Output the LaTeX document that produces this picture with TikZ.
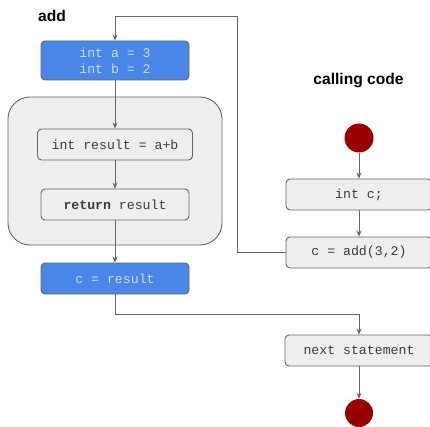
\documentclass[tikz,border=0pt]{standalone}
\usepackage{fontspec}
\setmainfont{Liberation Sans}
\newfontfamily\codefont{Liberation Mono}
\usetikzlibrary{arrows.meta}
\definecolor{linegray}{HTML}{666666}
\definecolor{boxfill}{HTML}{EEEEEE}
\definecolor{bluefill}{HTML}{4A86E8}
\definecolor{bluetext}{HTML}{C9DAF8}
\definecolor{codegray}{HTML}{3C3C3C}
\definecolor{dotred}{HTML}{990000}
\tikzset{
  x=1pt, y=-1pt,
  arr/.style={draw=linegray, line width=0.9pt, -{Stealth[length=6pt,width=5pt]}},
  codebox/.style={draw=linegray, line width=0.9pt, fill=boxfill, rounded corners=4pt,
    minimum width=148pt, minimum height=31pt, inner sep=0pt,
    font=\codefont\fontsize{13.2}{16}\selectfont, text=codegray},
  bluebox/.style={codebox, fill=bluefill, text=bluetext, align=center},
  group/.style={draw=linegray, line width=0.9pt, fill=boxfill, rounded corners=22pt,
    minimum width=214pt, minimum height=148pt, inner sep=0pt},
  dot/.style={circle, fill=dotred, minimum size=29pt, inner sep=0pt},
  heading/.style={font=\bfseries\fontsize{15.6}{18}\selectfont, anchor=base, inner sep=0pt},
}
\begin{document}
\begin{tikzpicture}
\useasboundingbox (0,0) rectangle (430,427);
\fill[white] (0,0) rectangle (430,427);

% function body
\node[heading] (addlbl) at (52,22) {add};
\node[group] (body) at (115,171) {};
\node[bluebox] (params) at (115,60.5) [minimum height=39pt] {int a = 3\\int b = 2};
\node[codebox, minimum width=155pt] (sum) at (115,144.5) {int result = a+b};
\node[codebox] (ret) at (115,204.5) {\textbf{return} result};
\node[bluebox] (assign) at (115,278.5) {c = result};

% caller
\node[heading] (calllbl) at (358.5,85) {calling code};
\node[dot] (start) at (359,138) {};
\node[codebox, minimum width=146pt] (decl) at (359,194.5) {int c;};
\node[codebox, minimum width=146pt] (call) at (359,252.5) {c = add(3,2)};
\node[codebox, minimum width=148pt] (next) at (359,350.5) {next statement};
\node[dot, minimum size=28pt] (stop) at (359,413) {};

% routing points
\coordinate (up) at (237,16);
\coordinate (back) at (359,314);

% connectors
\draw[arr] (call.west) -| (up) -| (params.north);
\draw[arr] (params.south) -- (sum.north);
\draw[arr] (sum.south) -- (ret.north);
\draw[arr] (ret.south) -- (assign.north);
\draw[arr] (assign.south) |- (back) -- (next.north);
\draw[arr] (start) -- (decl.north);
\draw[arr] (decl.south) -- (call.north);
\draw[arr] (next.south) -- (stop);
\end{tikzpicture}
\end{document}
